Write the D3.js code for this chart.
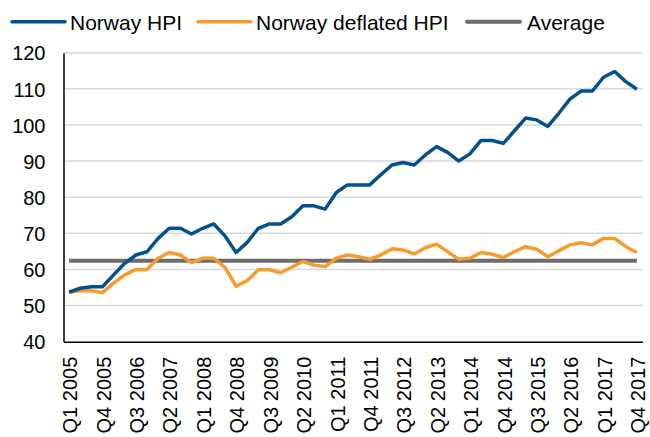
<!DOCTYPE html>
<html lang="en">
<head>
    <meta charset="UTF-8">
    <title>Norway HPI</title>
    <script src="https://d3js.org/d3.v7.min.js"></script>
    <style>
        * { margin: 0; padding: 0; box-sizing: border-box; }
        body {
            font-family: 'Liberation Sans', Arial, sans-serif;
            background: #ffffff;
            width: 650px;
            height: 437px;
            overflow: hidden;
        }
        .axis text { fill: #000; font-size: 20px; }
        .legend text { fill: #000; font-size: 21px; }
    </style>
</head>
<body>
    <div id="chart"></div>
    <script>
        const quarters = [
            "Q1 2005", "Q2 2005", "Q3 2005", "Q4 2005",
            "Q1 2006", "Q2 2006", "Q3 2006", "Q4 2006",
            "Q1 2007", "Q2 2007", "Q3 2007", "Q4 2007",
            "Q1 2008", "Q2 2008", "Q3 2008", "Q4 2008",
            "Q1 2009", "Q2 2009", "Q3 2009", "Q4 2009",
            "Q1 2010", "Q2 2010", "Q3 2010", "Q4 2010",
            "Q1 2011", "Q2 2011", "Q3 2011", "Q4 2011",
            "Q1 2012", "Q2 2012", "Q3 2012", "Q4 2012",
            "Q1 2013", "Q2 2013", "Q3 2013", "Q4 2013",
            "Q1 2014", "Q2 2014", "Q3 2014", "Q4 2014",
            "Q1 2015", "Q2 2015", "Q3 2015", "Q4 2015",
            "Q1 2016", "Q2 2016", "Q3 2016", "Q4 2016",
            "Q1 2017", "Q2 2017", "Q3 2017", "Q4 2017"
        ];

        const tickLabels = [
            "Q1 2005", "Q4 2005", "Q3 2006", "Q2 2007", "Q1 2008", "Q4 2008",
            "Q3 2009", "Q2 2010", "Q1 2011", "Q4 2011", "Q3 2012", "Q2 2013",
            "Q1 2014", "Q4 2014", "Q3 2015", "Q2 2016", "Q1 2017", "Q4 2017"
        ];

        const yTicks = [40, 50, 60, 70, 80, 90, 100, 110, 120];

        const hpi = [
            53.7, 54.8, 55.2, 55.2, 58.5, 61.7, 64.0, 64.9,
            68.6, 71.4, 71.4, 69.8, 71.4, 72.6, 69.3, 64.7,
            67.5, 71.4, 72.6, 72.6, 74.6, 77.6, 77.6, 76.7,
            81.3, 83.4, 83.4, 83.4, 86.2, 88.9, 89.6, 88.9,
            91.7, 94.0, 92.4, 90.0, 92.0, 95.7, 95.7, 94.9,
            98.4, 101.9, 101.4, 99.6, 103.3, 107.2, 109.4, 109.4,
            113.2, 114.8, 112.0, 109.9
        ];

        const deflated = [
            53.7, 54.1, 54.1, 53.6, 56.2, 58.5, 60.0, 60.0,
            63.1, 64.7, 64.0, 61.9, 63.1, 63.1, 60.6, 55.4,
            56.9, 59.9, 59.9, 59.1, 60.6, 62.2, 61.2, 60.8,
            63.1, 64.0, 63.5, 62.8, 64.0, 65.7, 65.4, 64.3,
            66.0, 67.0, 64.9, 62.8, 63.1, 64.7, 64.2, 63.3,
            64.9, 66.3, 65.6, 63.5, 65.2, 66.8, 67.4, 66.8,
            68.6, 68.6, 66.3, 64.7
        ];

        const average = [
            62.4, 62.4, 62.4, 62.4, 62.4, 62.4, 62.4, 62.4,
            62.4, 62.4, 62.4, 62.4, 62.4, 62.4, 62.4, 62.4,
            62.4, 62.4, 62.4, 62.4, 62.4, 62.4, 62.4, 62.4,
            62.4, 62.4, 62.4, 62.4, 62.4, 62.4, 62.4, 62.4,
            62.4, 62.4, 62.4, 62.4, 62.4, 62.4, 62.4, 62.4,
            62.4, 62.4, 62.4, 62.4, 62.4, 62.4, 62.4, 62.4,
            62.4, 62.4, 62.4, 62.4
        ];

        const seriesNames = ["Norway HPI", "Norway deflated HPI", "Average"];
        const seriesColors = ["#03508f", "#f59c2c", "#6d6d6d"];

        const series = [
            { name: seriesNames[0], values: hpi, color: seriesColors[0], width: 3.5 },
            { name: seriesNames[1], values: deflated, color: seriesColors[1], width: 3.5 },
            { name: seriesNames[2], values: average, color: seriesColors[2], width: 4 }
        ];

        const width = 650, height = 437;
        const plotLeft = 63.5, plotRight = 642.5, plotTop = 52.7, plotBottom = 341.7;

        const svg = d3.select("#chart")
            .append("svg")
            .attr("width", width)
            .attr("height", height);

        const x = d3.scaleBand()
            .domain(quarters)
            .range([plotLeft, plotRight]);

        const y = d3.scaleLinear()
            .domain([40, 120])
            .range([plotBottom, plotTop]);

        // grid lines
        svg.append("g")
            .selectAll("line")
            .data(yTicks.filter(d => d > 40))
            .join("line")
            .attr("x1", plotLeft)
            .attr("x2", plotRight)
            .attr("y1", d => y(d))
            .attr("y2", d => y(d))
            .attr("stroke", "#d9d9d9")
            .attr("stroke-width", 1.5);

        // y axis
        const yAxis = svg.append("g")
            .attr("class", "axis")
            .attr("transform", `translate(${plotLeft},0)`)
            .call(d3.axisLeft(y).tickValues(yTicks).tickSize(0).tickPadding(18));
        yAxis.select(".domain").attr("stroke", "#000").attr("stroke-width", 1.5);
        yAxis.selectAll("text").attr("dy", "0.36em");

        // x axis
        const xAxis = svg.append("g")
            .attr("class", "axis")
            .attr("transform", `translate(0,${plotBottom})`)
            .call(d3.axisBottom(x).tickValues(tickLabels).tickSize(0));
        xAxis.select(".domain").attr("stroke", "#000").attr("stroke-width", 1.5);
        xAxis.selectAll("text")
            .attr("transform", "rotate(-90)")
            .attr("text-anchor", "end")
            .attr("x", -15)
            .attr("y", 1)
            .attr("dy", "0.36em");

        // lines
        const line = d3.line()
            .x((d, i) => x(quarters[i]) + x.bandwidth() / 2)
            .y(d => y(d));

        svg.append("g")
            .selectAll("path")
            .data(series.slice().reverse())
            .join("path")
            .attr("d", d => line(d.values))
            .attr("fill", "none")
            .attr("stroke", d => d.color)
            .attr("stroke-width", d => d.width)
            .attr("stroke-linejoin", "round");

        // legend
        const legendX = [12, 198, 467];
        const legend = svg.append("g").attr("class", "legend");
        series.forEach((s, i) => {
            const row = legend.append("g")
                .attr("transform", `translate(${legendX[i]},21.7)`);
            row.append("line")
                .attr("x1", 0)
                .attr("x2", 53)
                .attr("stroke", s.color)
                .attr("stroke-width", s.width)
                .attr("stroke-linecap", "round");
            row.append("text")
                .attr("x", i === 2 ? 60 : 58)
                .attr("y", 8)
                .text(s.name);
        });
    </script>
</body>
</html>
